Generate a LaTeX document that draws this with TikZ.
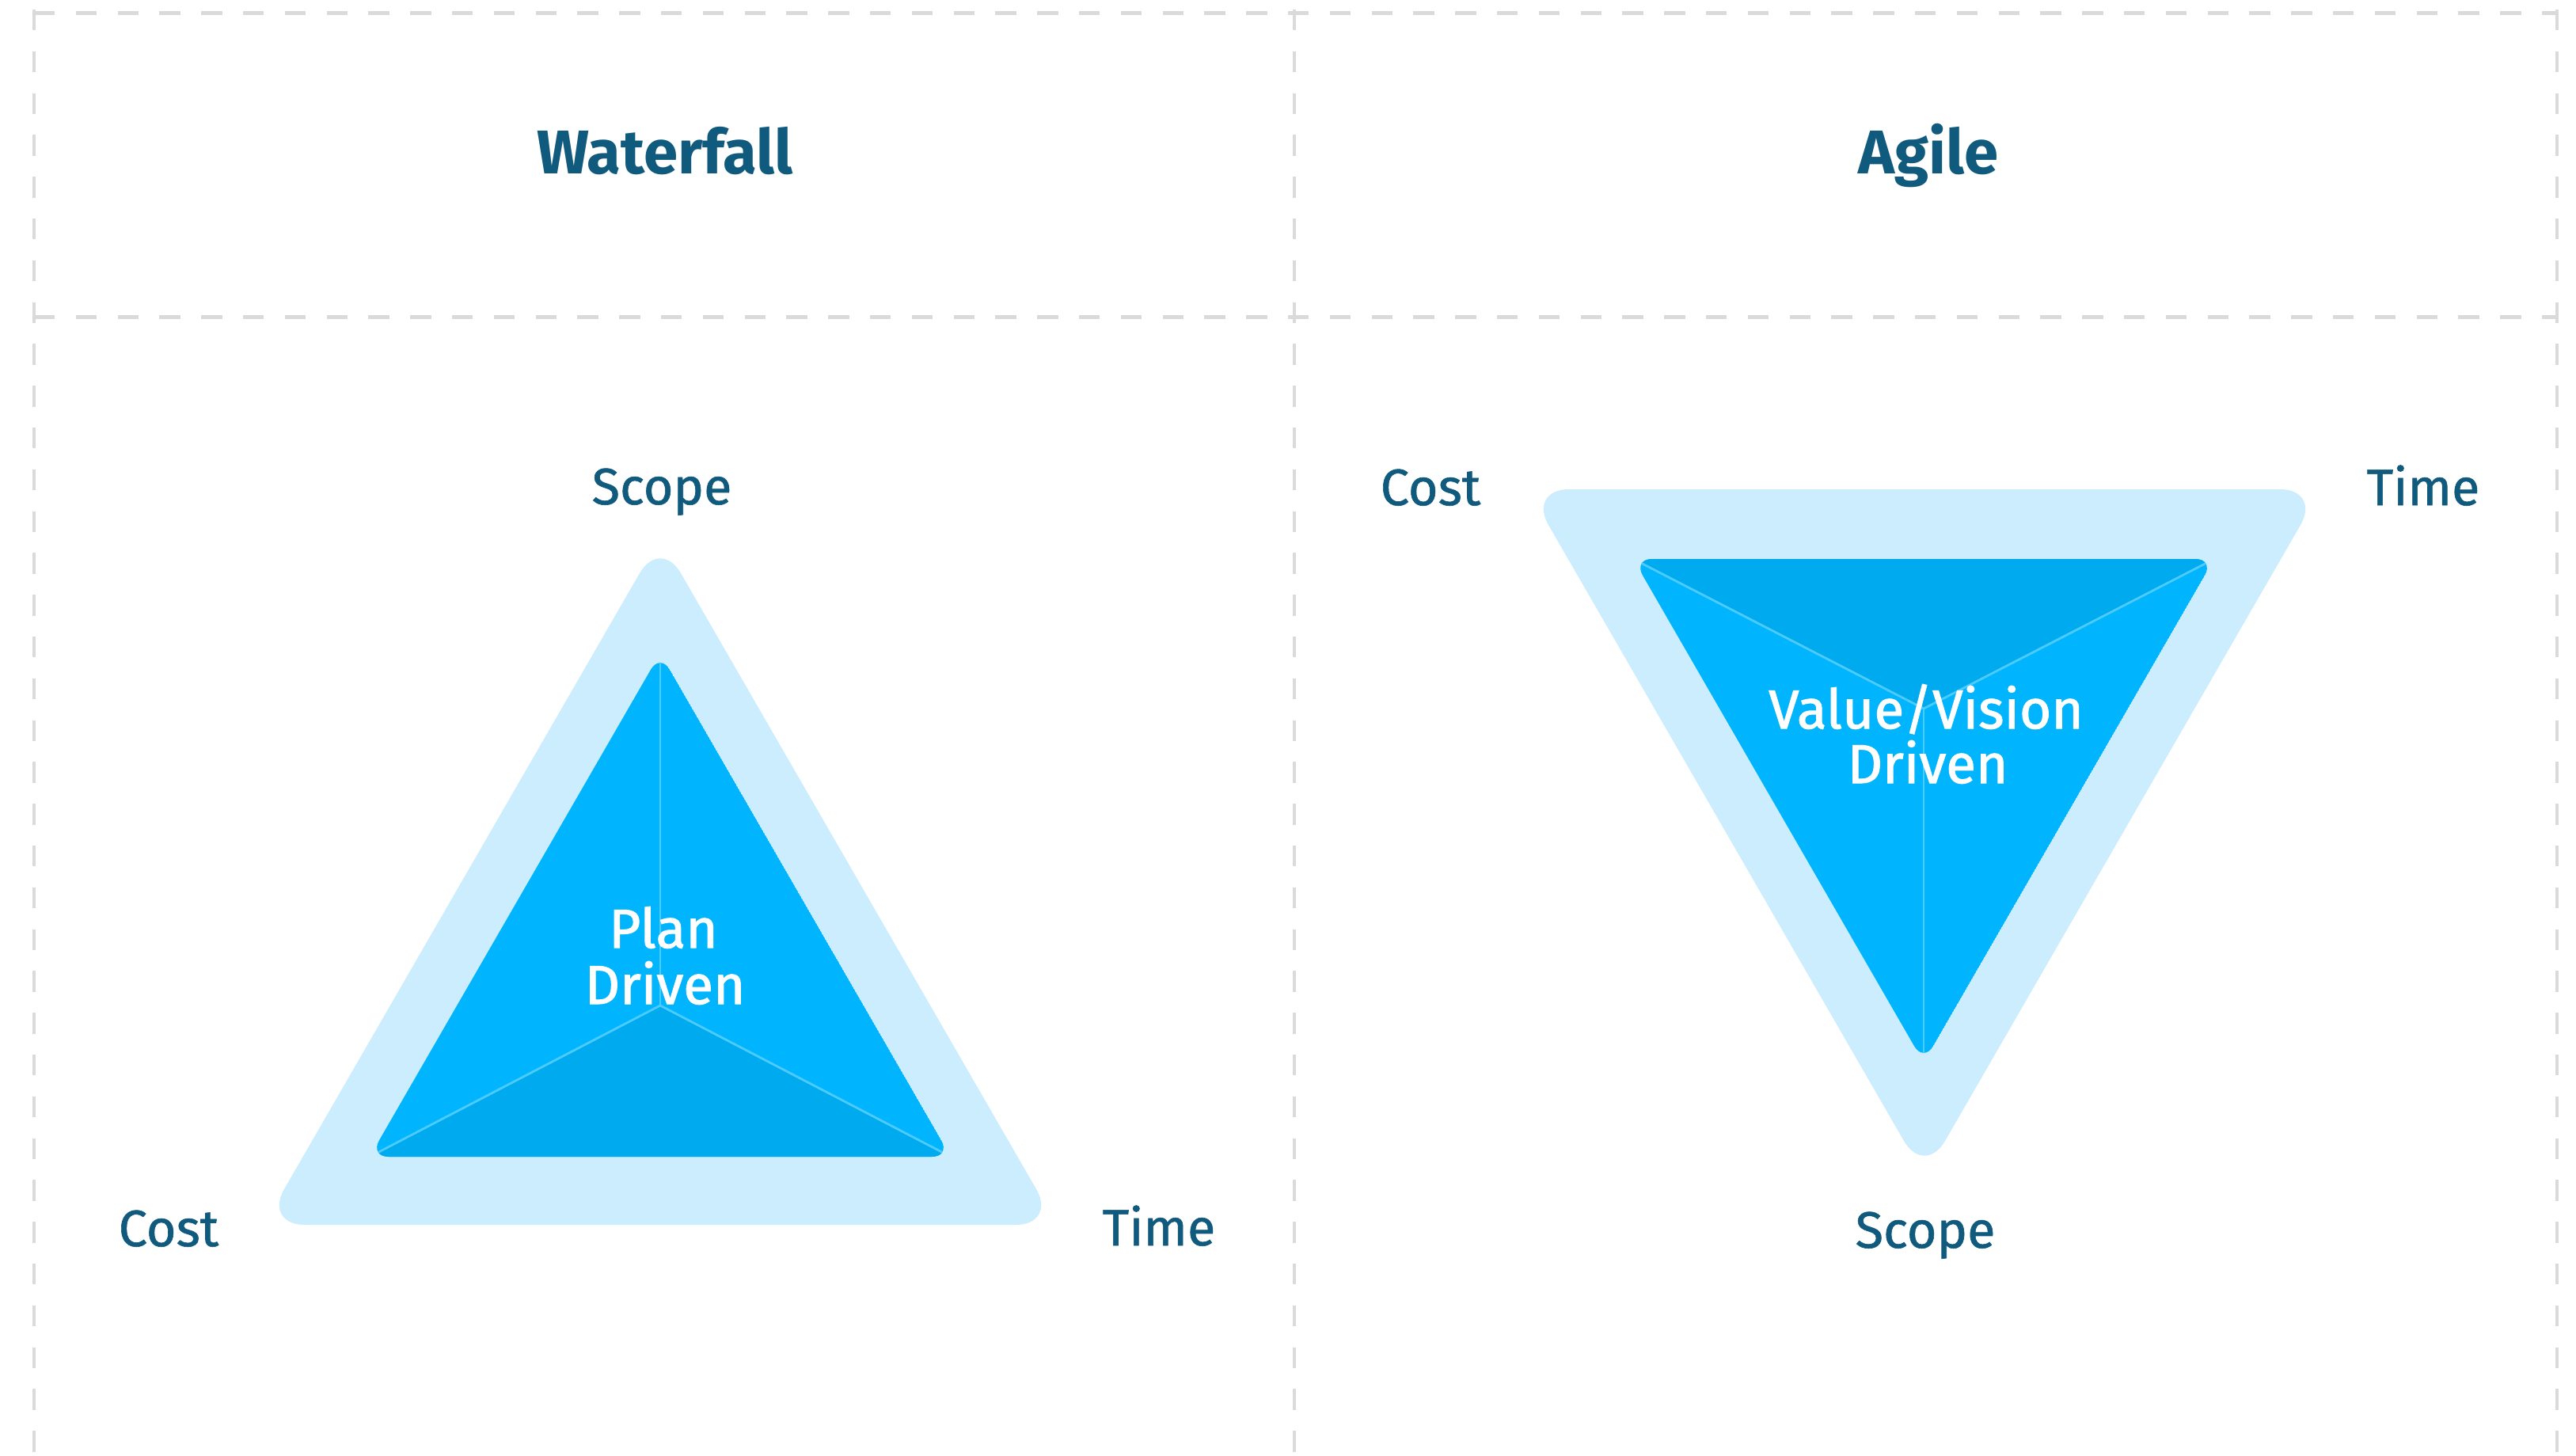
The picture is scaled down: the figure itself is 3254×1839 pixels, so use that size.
\documentclass[tikz,border=0pt]{standalone}
\usepackage{fontspec}
\setmainfont{Fira Sans}
\newfontfamily\labelfont{Fira Sans}[FakeBold=0.9]
\newfontfamily\centrefont{Fira Sans}[FakeBold=1.5]
\definecolor{gridgray}{HTML}{DADADA}
\definecolor{textblue}{HTML}{105A7D}
\definecolor{outerblue}{HTML}{CBEDFD}
\definecolor{innerblue}{HTML}{00B5FE}
\definecolor{darkblue}{HTML}{00AAEE}
\definecolor{seamblue}{HTML}{4CCBFF}
\begin{document}
\begin{tikzpicture}[x=0.25pt,y=-0.25pt,
  hdash/.style={draw=gridgray,line width=1.25pt,dash pattern=on 6.6pt off 6.6pt},
  vdash/.style={draw=gridgray,line width=1.2pt,dash pattern=on 6.6pt off 6.6pt},
  title/.style={anchor=base,text=textblue,font=\fontsize{19.5pt}{23pt}\selectfont\bfseries},
  corner/.style={anchor=base,text=textblue,font=\labelfont\fontsize{16.2pt}{19pt}\selectfont},
  centre/.style={anchor=base,text=white,font=\centrefont\fontsize{17.3pt}{20pt}\selectfont},
  outer/.style={fill=outerblue,rounded corners=13pt},
  innerround/.style={rounded corners=6pt},
  seam/.style={draw=seamblue,line width=0.7pt}]
\useasboundingbox (0,0) rectangle (3254,1839);
\fill[white] (0,0) rectangle (3254,1839);
% grid
\draw[hdash] (43,17) -- (3230,17);
\draw[hdash] (43,401) -- (3230,401);
\draw[vdash] (43,12) -- (43,1839);
\draw[vdash] (1635,12) -- (1635,1839);
\draw[vdash] (3230,12) -- (3230,1839);
% titles
\node[title] (wf) at (840,220) {Waterfall};
\node[title] (ag) at (2436,220) {Agile};
% ---------- Waterfall ----------
\coordinate (LO1) at (333,1547);
\coordinate (LO2) at (1335,1547);
\coordinate (LO3) at (834,679);
\coordinate (LI1) at (467,1461);
\coordinate (LI2) at (1201,1461);
\coordinate (LI3) at (834,825);
\coordinate (LM) at (834,1270);
\path[outer] (LO1) -- (LO2) -- (LO3) -- cycle;
\begin{scope}
  \clip[innerround] (LI1) -- (LI2) -- (LI3) -- cycle;
  \fill[innerblue] (LI1) -- (LI2) -- (LI3) -- cycle;
  \fill[darkblue] (LM) -- (LI1) -- (LI2) -- cycle;
  \draw[seam] (LM) -- (LI1);
  \draw[seam] (LM) -- (LI2);
  \draw[seam] (LM) -- (LI3);
\end{scope}
\node[centre] (plan) at (838,1197) {Plan};
\node[centre] (pdrv) at (840,1268) {Driven};
\node[corner] (lscope) at (836,637) {Scope};
\node[corner] (lcost) at (213,1574) {Cost};
\node[corner] (ltime) at (1464,1573) {Time};
% ---------- Agile ----------
\coordinate (RO1) at (1930,618);
\coordinate (RO2) at (2932,618);
\coordinate (RO3) at (2431,1486);
\coordinate (RI1) at (2063,706);
\coordinate (RI2) at (2797,706);
\coordinate (RI3) at (2430,1342);
\coordinate (RM) at (2430,895);
\path[outer] (RO1) -- (RO2) -- (RO3) -- cycle;
\begin{scope}
  \clip[innerround] (RI1) -- (RI2) -- (RI3) -- cycle;
  \fill[innerblue] (RI1) -- (RI2) -- (RI3) -- cycle;
  \fill[darkblue] (RM) -- (RI1) -- (RI2) -- cycle;
  \draw[seam] (RM) -- (RI1);
  \draw[seam] (RM) -- (RI2);
  \draw[seam] (RM) -- (RI3);
\end{scope}
\node[centre] (vv) at (2433,920) {Value/Vision};
\node[centre] (vdrv) at (2435,989) {Driven};
\node[corner] (rcost) at (1807,638) {Cost};
\node[corner] (rtime) at (3061,638) {Time};
\node[corner] (rscope) at (2432,1576) {Scope};
\end{tikzpicture}
\end{document}
